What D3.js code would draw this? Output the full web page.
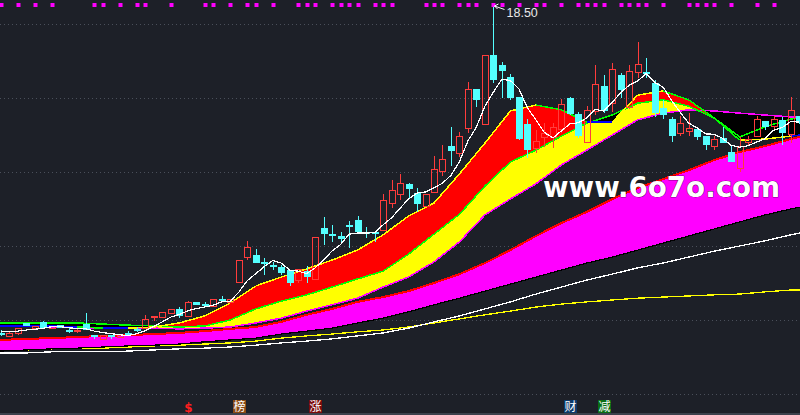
<!DOCTYPE html>
<html><head><meta charset="utf-8">
<script src="https://cdn.jsdelivr.net/npm/d3@7"></script>
<style>html,body{margin:0;padding:0;background:#1d2028;}svg{display:block}</style>
</head><body><svg id="c" width="800" height="415"></svg>
<script>
// ---------- data ----------
const openP = [9.66,9.57,9.65,9.92,9.78,9.95,9.78,9.86,9.73,9.72,9.89,9.59,9.49,9.59,9.54,9.66,9.77,9.78,10.08,10.08,10.19,10.30,10.11,10.49,10.44,10.38,10.58,10.49,11.03,11.70,11.76,11.57,11.49,11.43,11.35,11.08,11.32,11.11,12.49,12.32,12.27,12.58,12.70,12.38,12.38,12.43,13.16,13.41,13.68,13.43,13.08,13.46,14.03,14.70,14.51,15.19,16.24,15.30,17.16,16.89,16.57,16.03,15.30,14.65,14.95,14.95,15.16,16.00,15.57,14.81,15.65,16.32,15.86,16.62,15.76,16.70,16.70,16.41,15.73,15.43,15.05,15.11,15.16,14.97,14.70,14.92,14.54,14.11,14.81,14.97,15.38,15.24,15.41,15.03,15.51];
const highP = [9.73,9.68,9.78,9.92,9.84,9.97,9.84,9.86,9.78,9.78,10.19,9.59,9.59,9.59,9.59,9.70,9.81,10.14,10.11,10.22,10.30,10.35,10.51,10.49,10.49,10.57,10.65,10.57,11.62,12.14,11.92,11.68,11.57,11.49,11.35,11.38,11.46,12.24,12.78,12.57,12.38,12.68,12.81,12.51,12.38,13.41,13.78,13.95,13.70,13.57,13.41,14.43,14.73,15.22,15.08,16.43,16.24,17.16,18.50,16.97,16.65,16.03,15.43,15.14,15.32,15.32,15.97,16.03,15.62,15.78,16.89,16.62,16.95,16.68,16.89,17.51,17.08,16.49,15.95,15.49,15.51,15.59,15.16,14.97,14.97,15.22,14.73,14.95,14.97,15.51,15.38,15.51,15.49,16.03,15.51];
const lowP = [9.57,9.57,9.59,9.84,9.78,9.78,9.78,9.78,9.65,9.65,9.73,9.49,9.49,9.49,9.54,9.62,9.68,9.78,9.97,10.08,10.19,10.05,10.11,10.41,10.35,10.35,10.49,10.49,11.03,11.62,11.54,11.22,11.35,11.22,10.92,11.00,11.00,11.11,12.03,12.11,12.08,11.95,12.32,12.22,12.11,12.43,13.03,13.24,13.30,12.92,13.08,13.46,13.89,14.16,14.41,15.05,15.76,15.30,16.41,16.00,15.95,14.86,14.38,14.51,14.68,14.65,15.05,15.54,14.92,14.81,15.54,15.59,15.62,16.00,15.70,16.54,16.54,15.49,15.43,14.81,14.97,14.97,14.86,14.59,14.59,14.78,14.27,14.00,14.73,14.95,15.14,15.14,14.73,14.78,15.30];
const closeP = [9.65,9.65,9.78,9.84,9.84,9.78,9.84,9.78,9.72,9.73,9.73,9.54,9.59,9.54,9.59,9.65,9.76,10.03,10.11,10.22,10.30,10.11,10.49,10.41,10.43,10.57,10.57,10.57,11.62,11.97,11.54,11.51,11.43,11.27,11.00,11.38,11.16,12.24,12.32,12.27,12.19,12.57,12.38,12.32,12.35,13.24,13.51,13.70,13.54,13.14,13.41,14.08,14.35,14.57,14.97,16.24,15.95,17.16,16.49,16.73,16.00,14.89,14.59,14.84,15.05,15.22,15.84,15.57,14.97,15.68,16.38,15.65,16.78,16.22,16.73,16.92,16.65,15.59,15.54,14.97,15.32,15.19,14.95,14.73,14.89,14.78,14.27,14.70,14.89,15.43,15.22,15.43,15.05,15.68,15.35];
// white short average line, one value per candle
const ma5 = [9.68,9.68,9.70,9.73,9.75,9.78,9.82,9.82,9.79,9.77,9.76,9.70,9.66,9.63,9.60,9.58,9.63,9.71,9.83,9.95,10.08,10.15,10.25,10.31,10.35,10.40,10.49,10.51,10.75,11.06,11.25,11.44,11.61,11.54,11.35,11.32,11.25,11.41,11.62,11.87,12.04,12.32,12.35,12.35,12.36,12.57,12.76,13.02,13.27,13.43,13.46,13.57,13.70,13.91,14.28,14.84,15.22,15.78,16.16,16.51,16.47,16.25,15.74,15.41,15.07,14.92,15.11,15.30,15.33,15.46,15.69,15.65,15.89,16.14,16.35,16.46,16.66,16.42,16.29,15.93,15.61,15.32,15.19,15.03,15.02,14.91,14.72,14.67,14.71,14.81,14.90,15.13,15.20,15.36,15.35];
// ribbon lines, read at these candle indices
const sampleIdx = [0,3,6,9,12,15,18,21,24,27,30,33,36,39,42,45,48,51,54,57,60,63,66,69,72,75,78,81,84,87,90,93,94];
const lineA = [9.84,9.84,9.84,9.81,9.78,9.78,9.81,9.92,10.11,10.46,10.92,11.16,11.38,11.62,11.89,12.30,12.81,13.16,13.95,14.78,15.65,15.81,15.68,15.35,15.35,16.08,16.19,15.95,15.46,14.86,14.89,14.97,15.00];
const lineB = [9.92,9.92,9.92,9.92,9.89,9.86,9.84,9.81,9.84,10.00,10.30,10.51,10.68,10.89,11.11,11.32,11.78,12.32,12.86,13.62,14.27,14.59,14.97,15.32,15.54,15.86,15.95,15.78,15.46,14.95,15.22,15.43,15.46];
const lineC = [9.84,9.84,9.81,9.78,9.78,9.78,9.78,9.76,9.78,9.81,9.92,10.05,10.24,10.41,10.59,10.89,11.16,11.57,12.11,12.84,13.27,13.68,14.19,14.59,15.00,15.41,15.59,15.68,15.65,15.59,15.54,15.49,15.49];
const lineD = [9.46,9.49,9.51,9.54,9.57,9.59,9.62,9.65,9.70,9.76,9.81,9.95,10.14,10.30,10.49,10.62,10.78,11.00,11.24,11.54,11.89,12.27,12.62,12.92,13.27,13.57,13.81,14.05,14.32,14.54,14.70,14.89,14.95];
const lineE = [9.16,9.19,9.22,9.24,9.27,9.30,9.32,9.35,9.41,9.46,9.51,9.62,9.70,9.78,9.92,10.05,10.22,10.41,10.59,10.78,10.97,11.16,11.35,11.54,11.70,11.89,12.08,12.27,12.46,12.65,12.84,13.00,13.05];
const lineW = [9.11,9.11,9.14,9.14,9.14,9.16,9.19,9.22,9.24,9.27,9.32,9.38,9.43,9.49,9.57,9.65,9.78,9.95,10.11,10.30,10.49,10.70,10.89,11.08,11.24,11.41,11.54,11.70,11.86,12.00,12.14,12.30,12.35];
const lineY = [9.19,9.19,9.22,9.24,9.24,9.27,9.30,9.32,9.35,9.38,9.43,9.51,9.57,9.62,9.68,9.73,9.81,9.92,10.03,10.14,10.24,10.35,10.43,10.49,10.54,10.59,10.62,10.65,10.68,10.70,10.76,10.81,10.81];
const gridTicks = [8,10,12,14,16,18];
const markerIdx = [0,2,4,6,11,12,14,16,17,20,24,25,27,29,30,32,35,36,37,39,40,41,42,44,45,46,50,51,52,54,55,56,58,59,61,63,64,66,68,69,70,71,73,74,75,76,78,81,82,83,84,86,89,91];
const highLabel = "18.50";
const highIdx = 58;
const badgeIdx = [22,28,37,67,71];
const badgeText = ["$","榜","涨","财","减"];
const watermark = "www.6o7o.com";

// ---------- drawing ----------
const W = 800, H = 415;
const svg = d3.select("#c");
const x = d3.scaleLinear().domain([0, 94]).range([1, 799.06]);
const y = d3.scaleLinear().domain([8, 18]).range([394, 24]);
const n = closeP.length;
const last = sampleIdx.length - 1;
const sx = k => k === 0 ? 0 : (k === last ? W : x(sampleIdx[k]));

svg.append("rect").attr("width", W).attr("height", H).attr("fill", "#1d2028");

// grid
svg.append("g").selectAll("line").data(gridTicks).join("line")
  .attr("x1", 0).attr("x2", W)
  .attr("y1", d => Math.round(y(d)) + 0.5).attr("y2", d => Math.round(y(d)) + 0.5)
  .attr("stroke", "#4a4f5a").attr("stroke-width", 1).attr("stroke-dasharray", "1,3");

svg.append("rect").attr("x", 0).attr("y", 413).attr("width", W).attr("height", 2).attr("fill", "#3c414c");

const defs = svg.append("defs");
function clip(id, arr, above) {
  const a = d3.area().x((d, k) => sx(k))
    .y0(above ? 0 : H).y1((d, k) => y(arr[k]));
  defs.append("clipPath").attr("id", id).append("path").attr("d", a(sampleIdx));
}
clip("aboveB", lineB, true); clip("belowB", lineB, false);
clip("aboveC", lineC, true); clip("belowC", lineC, false);

const band = (top, bot) => d3.area().x((d, k) => sx(k)).y0((d, k) => y(bot[k])).y1((d, k) => y(top[k]))(sampleIdx);
const line = arr => d3.line().x((d, k) => sx(k)).y((d, k) => y(arr[k]))(sampleIdx);

const g = svg.append("g").attr("shape-rendering", "crispEdges");
// long lines
g.append("path").attr("d", line(lineY)).attr("fill", "none").attr("stroke", "#ffff00").attr("stroke-width", 1.3);
g.append("path").attr("d", line(lineW)).attr("fill", "none").attr("stroke", "#ffffff").attr("stroke-width", 1.3);
// magenta ribbon
g.append("path").attr("d", band(lineD, lineE)).attr("fill", "#ff00ff");
g.append("path").attr("d", line(lineE)).attr("fill", "none").attr("stroke", "#000").attr("stroke-width", 1.2);
g.append("path").attr("d", line(lineD)).attr("fill", "none").attr("stroke", "#ff0000").attr("stroke-width", 2);
// B/C ribbon
g.append("path").attr("d", band(lineB, lineC)).attr("fill", "#ffff00").attr("clip-path", "url(#aboveC)");
g.append("path").attr("d", band(lineB, lineC)).attr("fill", "#000000").attr("clip-path", "url(#belowC)");
// A/B ribbon
g.append("path").attr("d", band(lineA, lineB)).attr("fill", "#ff0000").attr("clip-path", "url(#aboveB)");
g.append("path").attr("d", band(lineA, lineB)).attr("fill", "#000000").attr("clip-path", "url(#belowB)");
g.append("path").attr("d", line(lineC)).attr("fill", "none").attr("stroke", "#ff00ff").attr("stroke-width", 1.5);
g.append("path").attr("d", line(lineB)).attr("fill", "none").attr("stroke", "#00ff00").attr("stroke-width", 1.5);
// A edge coloured by direction
for (let k = 0; k < last; k++) {
  const diff = lineA[k + 1] - lineA[k];
  const col = Math.abs(diff) < 0.03 ? "#0000ff" : (diff > 0 ? "#ffff00" : "#00ff00");
  g.append("line").attr("x1", sx(k)).attr("y1", y(lineA[k])).attr("x2", sx(k + 1)).attr("y2", y(lineA[k + 1]))
    .attr("stroke", col).attr("stroke-width", 1.5);
}

// candles
const cg = svg.append("g").attr("shape-rendering", "crispEdges");
const UP = "#ff3c3c", DN = "#54ffff";
for (let i = 0; i < n; i++) {
  const cx = Math.round(x(i));
  const o = openP[i], c = closeP[i];
  const up = c > o;
  const col = up ? UP : DN;
  const yt = Math.round(y(Math.max(o, c))), yb = Math.round(y(Math.min(o, c)));
  const yh = Math.round(y(highP[i])), yl = Math.round(y(lowP[i]));
  const wx = cx + 0.5;
  if (up) {
    if (yh < yt) cg.append("line").attr("x1", wx).attr("x2", wx).attr("y1", yh).attr("y2", yt).attr("stroke", col);
    if (yl > yb) cg.append("line").attr("x1", wx).attr("x2", wx).attr("y1", yb).attr("y2", yl).attr("stroke", col);
    cg.append("rect").attr("x", cx - 2.5).attr("y", yt + 0.5).attr("width", 6).attr("height", Math.max(1, yb - yt))
      .attr("fill", "none").attr("stroke", col).attr("stroke-width", 1);
  } else {
    cg.append("line").attr("x1", wx).attr("x2", wx).attr("y1", yh).attr("y2", yl).attr("stroke", col);
    cg.append("rect").attr("x", cx - 3).attr("y", yt).attr("width", 7).attr("height", Math.max(1.5, yb - yt)).attr("fill", col);
  }
}

// white short line
svg.append("path").attr("d", d3.line().x((d, i) => x(i)).y(d => y(d))(ma5))
  .attr("fill", "none").attr("stroke", "#ffffff").attr("stroke-width", 1.2).attr("shape-rendering", "crispEdges");

// markers on top
svg.append("g").selectAll("rect").data(markerIdx).join("rect")
  .attr("x", d => Math.round(x(d)) - 1.5).attr("y", 3).attr("width", 4).attr("height", 4).attr("fill", "#ff00ff");

// high label
const hx = Math.round(x(highIdx)) + 0.5, hy = y(highP[highIdx]);
svg.append("path").attr("d", `M${hx + 11},${hy + 4} L${hx + 1},${hy + 0.5} M${hx + 1},${hy + 0.5} l4,-2 M${hx + 1},${hy + 0.5} l3,3`)
  .attr("stroke", "#ffffff").attr("stroke-width", 1).attr("fill", "none");
svg.append("text").attr("x", hx + 13).attr("y", hy + 11).text(highLabel)
  .attr("font-family", "Liberation Sans, Arial, sans-serif").attr("font-size", 12.5).attr("fill", "#e8e8e8");

// watermark
svg.append("text").attr("x", 543).attr("y", 197).text(watermark)
  .attr("font-family", "DejaVu Sans, sans-serif").attr("font-weight", "bold").attr("font-size", 28)
  .attr("textLength", 237).attr("lengthAdjust", "spacingAndGlyphs")
  .attr("fill", "#ffffff").attr("stroke", "#000").attr("stroke-width", 0.6).attr("paint-order", "stroke");

// bottom badges
const badgeBg = [null, "#8a4a14", "#7a0c0c", "#0c3a6a", "#0a6e14"];
badgeIdx.forEach((bi, k) => {
  const cx = Math.round(x(bi));
  if (badgeBg[k]) {
    svg.append("rect").attr("x", cx - 6).attr("y", 400).attr("width", 13).attr("height", 13).attr("fill", badgeBg[k]);
    svg.append("text").attr("x", cx + 0.5).attr("y", 411).attr("text-anchor", "middle").text(badgeText[k])
      .attr("font-family", "Noto Sans CJK SC, sans-serif").attr("font-size", 12).attr("fill", "#ffffff");
  } else {
    svg.append("text").attr("x", cx + 0.5).attr("y", 412).attr("text-anchor", "middle").text(badgeText[k])
      .attr("font-family", "DejaVu Sans, sans-serif").attr("font-weight", "bold").attr("font-size", 12).attr("fill", "#ff1e1e");
  }
});
</script></body></html>
